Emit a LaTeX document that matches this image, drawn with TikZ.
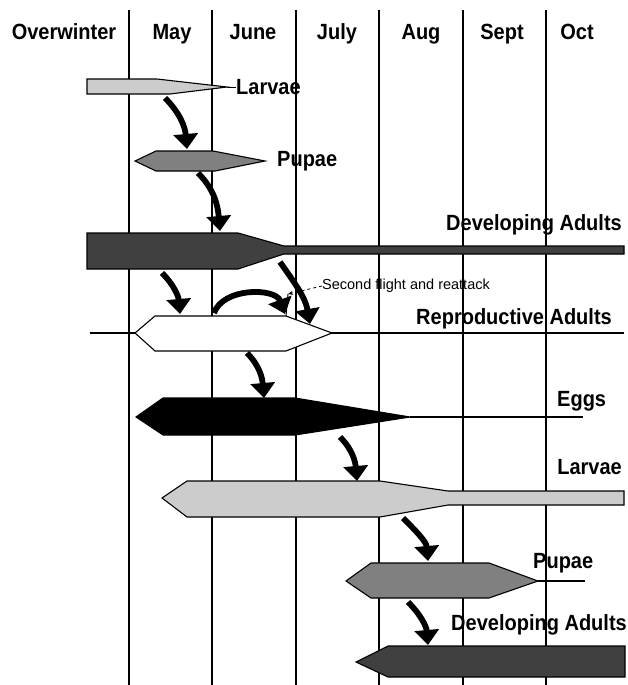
\documentclass[tikz,border=0pt]{standalone}
\usepackage{fontspec}
\setmainfont{Liberation Sans}
\usetikzlibrary{arrows.meta}
\definecolor{lightg}{HTML}{CCCCCC}
\definecolor{midg}{HTML}{808080}
\definecolor{darkg}{HTML}{404040}
\newcommand{\tallbf}[1]{\scalebox{1}[1.1]{#1}}
\begin{document}
\begin{tikzpicture}[x=1pt,y=1pt,
  lab/.style={font=\bfseries\fontsize{20}{24}\selectfont, inner sep=0pt},
  hdr/.style={lab, anchor=base},
  small/.style={font=\fontsize{14.5}{17}\selectfont, inner sep=0pt},
  gridline/.style={line width=1.2pt},
  stage/.style={draw=black, line width=1.1pt, line join=miter},
  bigarrow/.style={line width=5.8pt, -{Triangle[width=24pt,length=15pt]}},
]
\useasboundingbox (0,0) rectangle (628,-685);

% month grid
\foreach \x/\n in {129/g1,212/g2,296/g3,379/g4,463/g5,546/g6}{
  \coordinate (\n t) at (\x,-10);
  \coordinate (\n b) at (\x,-685);
  \draw[gridline] (\n t) -- (\n b);
}

% headers
\node[hdr] (h0) at (64,-40) {\tallbf{Overwinter}};
\node[hdr] (h1) at (172,-40) {\tallbf{May}};
\node[hdr] (h2) at (253,-40) {\tallbf{June}};
\node[hdr] (h3) at (337,-40) {\tallbf{July}};
\node[hdr] (h4) at (421,-40) {\tallbf{Aug}};
\node[hdr] (h5) at (502,-40) {\tallbf{Sept}};
\node[hdr] (h6) at (577,-40) {\tallbf{Oct}};

% horizontal line of reproductive adults
\coordinate (rl) at (90,-333);
\coordinate (rr) at (624,-333);
\draw[gridline] (rl) -- (rr);

% Larvae (overwinter)
\draw[stage, fill=lightg] (87,-79) -- (157,-79) -- (227,-87) -- (170,-94) -- (87,-94) -- cycle;
\coordinate (l1tip) at (227,-87);
\coordinate (l1end) at (236,-87);
\draw[line width=1pt] (l1tip) -- (l1end);

% Pupae
\draw[stage, fill=midg] (135,-161) -- (156,-151) -- (213,-151) -- (265,-161) -- (215,-171) -- (156,-171) -- cycle;

% Developing adults
\draw[stage, fill=darkg] (87,-233) -- (238,-233) -- (284,-246) -- (624,-246) -- (624,-254) -- (284,-254) -- (238,-269) -- (87,-269) -- cycle;

% Reproductive adults
\draw[stage, fill=white] (135,-333) -- (155,-316) -- (286,-316) -- (332,-333) -- (286,-351) -- (155,-351) -- cycle;

% Eggs
\coordinate (etip) at (410,-417);
\coordinate (eend) at (583,-417);
\draw[gridline] (etip) -- (eend);
\draw[stage, fill=black] (136,-417) -- (163,-398) -- (295,-398) -- (410,-417) -- (295,-435) -- (163,-435) -- cycle;

% Larvae (second generation)
\draw[stage, fill=lightg] (162,-498) -- (187,-481) -- (380,-481) -- (448,-491) -- (624,-491) -- (624,-505) -- (448,-505) -- (380,-517) -- (187,-517) -- cycle;

% Pupae (second generation)
\coordinate (p2tip) at (538,-581);
\coordinate (p2end) at (585,-581);
\draw[gridline] (p2tip) -- (p2end);
\draw[stage, fill=midg] (346,-581) -- (371,-563) -- (489,-563) -- (538,-581) -- (489,-598) -- (371,-598) -- cycle;

% Developing adults (second generation)
\draw[stage, fill=darkg] (356,-662) -- (388,-646) -- (625,-646) -- (625,-677) -- (388,-677) -- cycle;

% labels
\node[lab, anchor=west] (tl1) at (236,-87) {\tallbf{Larvae}};
\node[lab, anchor=west] (tp1) at (277,-161) {\tallbf{Pupae}};
\node[lab, anchor=east] (td1) at (622,-225) {\tallbf{Developing Adults}};
\node[lab, anchor=east] (tr) at (612,-319) {\tallbf{Reproductive Adults}};
\node[lab, anchor=west] (te) at (557,-401) {\tallbf{Eggs}};
\node[lab, anchor=east] (tl2) at (622,-467) {\tallbf{Larvae}};
\node[lab, anchor=west] (tp2) at (533,-563) {\tallbf{Pupae}};
\node[lab, anchor=east] (td2) at (627,-625) {\tallbf{Developing Adults}};
\node[small, anchor=west] (sf) at (322,-286) {Second flight and reattack};

% arrows
\coordinate (a1s) at (165,-98);   \coordinate (a1e) at (187,-149);
\coordinate (a2s) at (198,-173);  \coordinate (a2e) at (220,-231);
\coordinate (a3s) at (162,-273);  \coordinate (a3e) at (180,-314);
\coordinate (a4s) at (280,-262);  \coordinate (a4e) at (310,-324);
\coordinate (a5s) at (214,-313);  \coordinate (a5e) at (285,-314);
\coordinate (a6s) at (247,-353);  \coordinate (a6e) at (264,-398);
\coordinate (a7s) at (340,-437);  \coordinate (a7e) at (357,-481);
\coordinate (a8s) at (403,-518);  \coordinate (a8e) at (428,-561);
\coordinate (a9s) at (408,-602);  \coordinate (a9e) at (428,-645);

\draw[bigarrow] (a1s) to[out=-45,in=95] (a1e);
\draw[bigarrow] (a2s) to[out=-45,in=95] (a2e);
\draw[bigarrow] (a3s) to[out=-45,in=95] (a3e);
\draw[bigarrow] (a4s) to[out=-55,in=100] (a4e);
\draw[bigarrow] (a5s) to[out=70,in=110] (a5e);
\draw[bigarrow] (a6s) to[out=-45,in=95] (a6e);
\draw[bigarrow] (a7s) to[out=-45,in=95] (a7e);
\draw[bigarrow] (a8s) to[out=-45,in=95] (a8e);
\draw[bigarrow] (a9s) to[out=-45,in=95] (a9e);

% leader for second flight
\coordinate (ld) at (288,-294);
\coordinate (tk) at (286,-316);
\draw[line width=0.8pt, dashed, -{Stealth[length=5pt,width=4pt]}] (sf.west) -- (ld);
\draw[line width=1pt] (ld) -- (tk);
\end{tikzpicture}
\end{document}
